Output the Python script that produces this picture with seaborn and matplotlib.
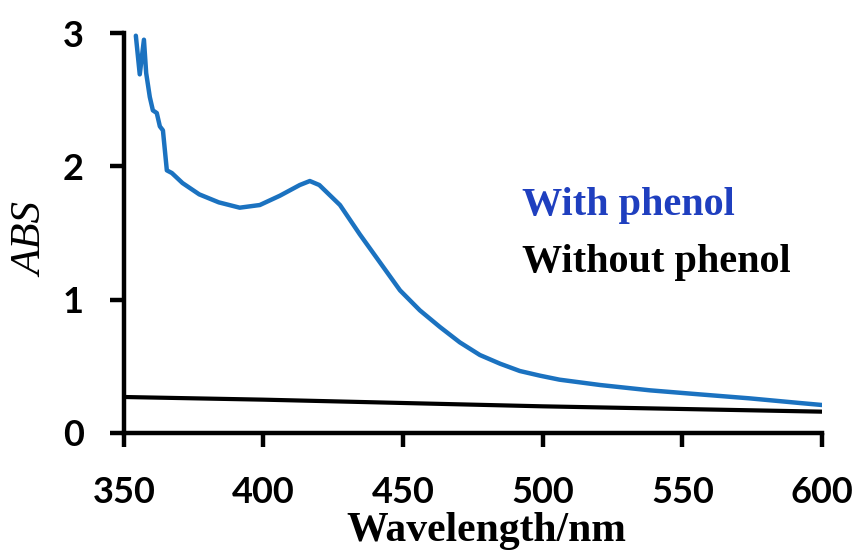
import matplotlib
matplotlib.use("Agg")
import matplotlib.pyplot as plt
import seaborn as sns
import pandas as pd

wl_with = [354.3, 355.7, 357.2, 358.0, 359.3, 360.4, 361.8, 362.9, 364.0, 365.4, 367.2, 371.0,
           377.0, 384.0, 391.5, 398.7, 405.9, 413.0, 416.6, 420.0, 427.4, 434.5, 441.7, 448.9,
           456.0, 463.2, 470.3, 477.5, 484.7, 491.8, 499.0, 506.0, 520.5, 538.4, 556.0, 574.0,
           592.0, 600.0]
abs_with = [2.98, 2.69, 2.95, 2.70, 2.52, 2.42, 2.40, 2.30, 2.27, 1.97, 1.95, 1.875,
            1.79, 1.73, 1.69, 1.71, 1.78, 1.86, 1.89, 1.86, 1.71, 1.49, 1.28, 1.07,
            0.92, 0.795, 0.68, 0.585, 0.52, 0.465, 0.43, 0.40, 0.36, 0.32, 0.29, 0.26,
            0.225, 0.21]
wl_without = [350, 400, 450, 500, 550, 600]
abs_without = [0.27, 0.25, 0.225, 0.20, 0.18, 0.16]

x_ticks = [350, 400, 450, 500, 550, 600]
y_ticks = [0, 1, 2, 3]

sns.set_style("white")
plt.rcParams["font.family"] = ["Lato", "DejaVu Sans"]
plt.rcParams["text.color"] = "black"
plt.rcParams["axes.labelcolor"] = "black"
plt.rcParams["xtick.color"] = "black"
plt.rcParams["ytick.color"] = "black"

fig = plt.figure(figsize=(8.54, 5.6), dpi=100)
ax = fig.add_axes([0.145, 0.2268, 0.8175, 0.7142])

df_w = pd.DataFrame({"wl": wl_with, "abs": abs_with})
df_wo = pd.DataFrame({"wl": wl_without, "abs": abs_without})
sns.lineplot(data=df_w, x="wl", y="abs", ax=ax, color="#1b72c0", linewidth=3.2, sort=False)
sns.lineplot(data=df_wo, x="wl", y="abs", ax=ax, color="black", linewidth=3.0, sort=False)

ax.set_xlim(350, 600)
ax.set_ylim(0, 3)
ax.set_xticks(x_ticks)
ax.set_yticks(y_ticks)
ax.set_xticklabels([str(v) for v in x_ticks], fontsize=26, fontweight="bold", color="black")
ax.set_yticklabels([str(v) for v in y_ticks], fontsize=26, fontweight="bold", color="black")
ax.tick_params(axis="both", which="major", bottom=True, left=True, direction="out",
               length=10, width=3.2, color="black")
ax.tick_params(axis="x", pad=21)
ax.tick_params(axis="y", pad=19)

for s in ["top", "right"]:
    ax.spines[s].set_visible(False)
for s in ["left", "bottom"]:
    ax.spines[s].set_linewidth(3.2)
    ax.spines[s].set_color("black")

ax.set_xlabel("Wavelength/nm", fontsize=30, fontweight="bold", family="Liberation Serif", color="black")
ax.xaxis.set_label_coords(0.52, -0.1975)
ax.set_ylabel("ABS", fontsize=31, fontstyle="italic", family="Liberation Serif", color="black")
ax.yaxis.set_label_coords(-0.104, 0.4825)

ax.text(0.571, 0.545, "With phenol", transform=ax.transAxes, fontsize=29, fontweight="bold",
        family="Liberation Serif", color="#1f3fbf", va="baseline", ha="left")
ax.text(0.571, 0.4025, "Without phenol", transform=ax.transAxes, fontsize=29, fontweight="bold",
        family="Liberation Serif", color="black", va="baseline", ha="left")

fig.savefig("out.png", dpi=100, facecolor="white")
